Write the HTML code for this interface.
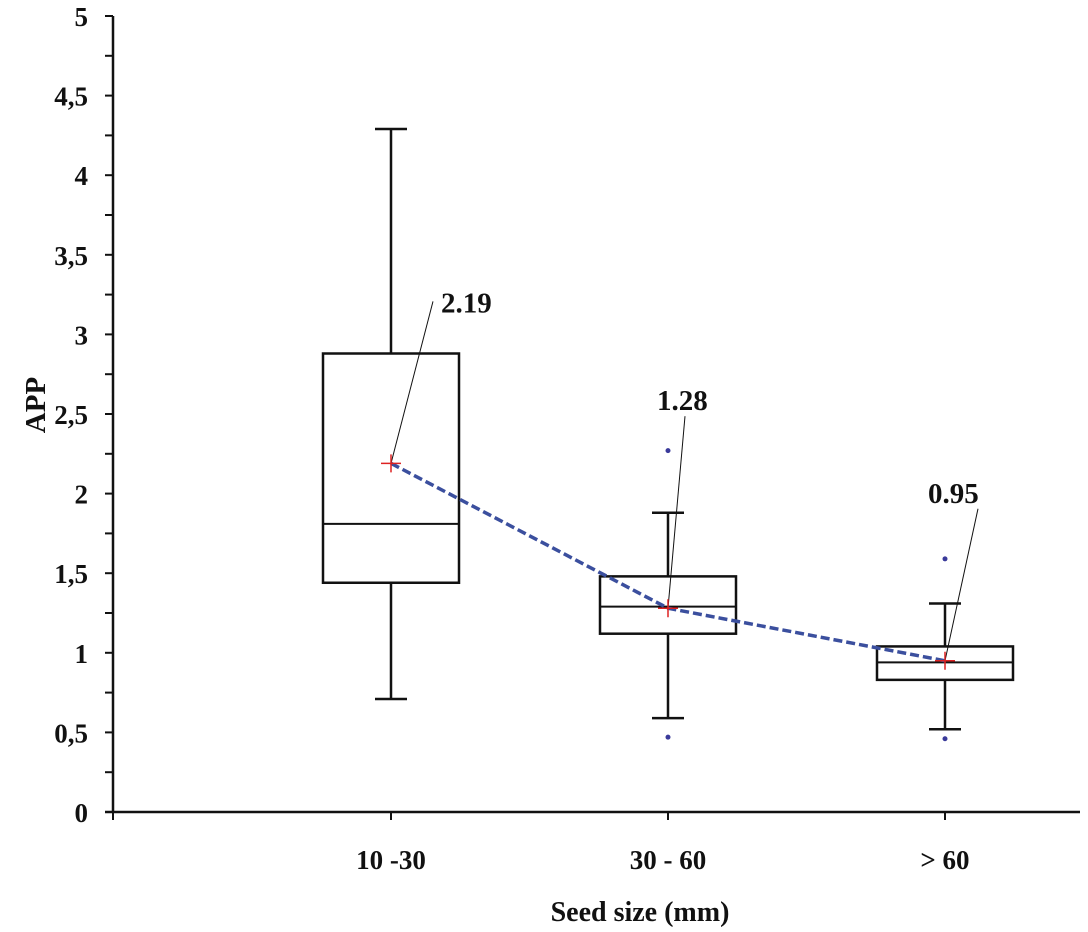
<!DOCTYPE html>
<html><head><meta charset="utf-8"><style>
body{margin:0;background:#fff}
svg text{font-family:"Liberation Serif",serif;font-weight:bold;fill:#111}
</style></head><body>
<svg id="c" width="1088" height="927" xmlns="http://www.w3.org/2000/svg"></svg>
<script>
const categories=["10 -30","30 - 60","> 60"];
const q1=[1.44,1.12,0.83];
const medians=[1.81,1.29,0.94];
const q3=[2.88,1.48,1.04];
const whiskerLow=[0.71,0.59,0.52];
const whiskerHigh=[4.29,1.88,1.31];
const outliers=[[],[2.27,0.47],[1.59,0.46]];
const means=[2.19,1.28,0.95];
const meanLabels=["2.19","1.28","0.95"];
const yTicks=["0","0,5","1","1,5","2","2,5","3","3,5","4","4,5","5"];

const svg=document.getElementById('c');const NS="http://www.w3.org/2000/svg";
const y=v=>812-v*159.2;
const x=i=>391+i*277;
function el(t,a,txt){const e=document.createElementNS(NS,t);for(const k in a)e.setAttribute(k,a[k]);if(txt!=null)e.textContent=txt;svg.appendChild(e);return e;}
let e;
e=el('line',{x1:113,y1:y(5),x2:113,y2:813,stroke:'#111','stroke-width':2.5});


e=el('line',{x1:105,y1:812,x2:1080,y2:812,stroke:'#111','stroke-width':2.5});


for(let k=0;k<=20;k++){const v=k*0.25;
 e=el('line',{x1:105,y1:y(v),x2:113,y2:y(v),stroke:'#111','stroke-width':2});
 
 }
yTicks.forEach((t,k)=>{e=el('text',{x:88,y:y(k*0.5)+10,'text-anchor':'end','font-size':27},t);
 
 });
e=el('line',{x1:113,y1:812,x2:113,y2:820,stroke:'#111','stroke-width':2});
categories.forEach((c,i)=>{
 e=el('line',{x1:x(i),y1:812,x2:x(i),y2:820,stroke:'#111','stroke-width':2});
 
 
 e=el('text',{x:x(i),y:869,'text-anchor':'middle','font-size':27},c);
 
 
 const w=68;
 e=el('line',{x1:x(i),y1:y(whiskerHigh[i]),x2:x(i),y2:y(whiskerLow[i]),stroke:'#111','stroke-width':2.5});
 
 
 [whiskerHigh[i],whiskerLow[i]].forEach(v=>{e=el('line',{x1:x(i)-16,y1:y(v),x2:x(i)+16,y2:y(v),stroke:'#111','stroke-width':2.5});
  
  });
 e=el('rect',{x:x(i)-w,y:y(q3[i]),width:2*w,height:y(q1[i])-y(q3[i]),fill:'#fff',stroke:'#111','stroke-width':2.5});
 
 
 e=el('line',{x1:x(i)-w,y1:y(medians[i]),x2:x(i)+w,y2:y(medians[i]),stroke:'#111','stroke-width':2});
 
 
 outliers[i].forEach(v=>{e=el('circle',{cx:x(i),cy:y(v),r:2.5,fill:'#3a3a9a'});
  
  });
});
let d=means.map((m,i)=>(i?'L':'M')+x(i)+','+y(m)).join(' ');
e=el('path',{d:d,fill:'none',stroke:'#3b4f9e','stroke-width':3.5,'stroke-dasharray':'9,4'});


// leader end offsets, text offsets relative to leader end
const leadOff=[[42,-162],[17,-192],[33,-152]];
const textOff=[[8,11],[-28,-6],[-50,-6]];
means.forEach((m,i)=>{
 const lx=x(i)+leadOff[i][0],ly=y(m)+leadOff[i][1];
 e=el('line',{x1:x(i),y1:y(m),x2:lx,y2:ly,stroke:'#111','stroke-width':1});
 
 
 e=el('path',{d:`M${x(i)-10},${y(m)}h20M${x(i)},${y(m)-9}v18`,stroke:'#d22','stroke-width':1.5});
 
 
 e=el('text',{x:lx+textOff[i][0],y:ly+textOff[i][1],'font-size':29},meanLabels[i]);
 
 
});
e=el('text',{x:0,y:0,'font-size':29,'text-anchor':'middle',transform:'translate(45,405) rotate(-90)'},'APP');


e=el('text',{x:640,y:921,'font-size':28,'text-anchor':'middle'},'Seed size (mm)');


</script>
</body></html>
